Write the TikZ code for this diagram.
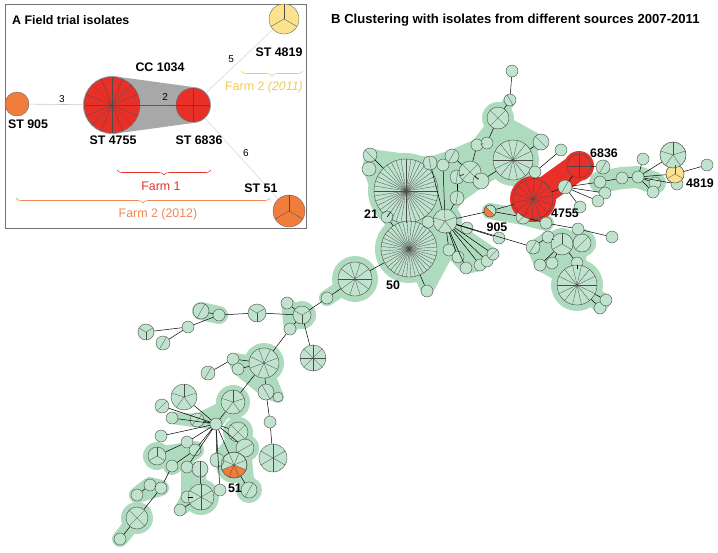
\documentclass[tikz,border=0pt]{standalone}
\usepackage{fontspec}
\setmainfont{Liberation Sans}
\usetikzlibrary{backgrounds}
\usetikzlibrary{decorations.pathreplacing}

\definecolor{stgreen}{RGB}{192,227,206}
\definecolor{hullgreen}{RGB}{174,218,190}
\definecolor{stred}{RGB}{233,48,40}
\definecolor{storange}{RGB}{240,125,60}
\definecolor{styellow}{RGB}{250,226,142}
\definecolor{farmyellow}{RGB}{243,202,84}
\definecolor{farmorange}{RGB}{238,135,85}
\definecolor{farmred}{RGB}{225,50,45}
\definecolor{ccgray}{RGB}{168,168,168}

\tikzstyle{title}=[font=\fontsize{12.4}{15}\selectfont\bfseries, inner sep=0pt]
\tikzstyle{lbl}=[font=\fontsize{12.4}{15}\selectfont\bfseries, inner sep=1pt]
\tikzstyle{farm}=[font=\fontsize{12.4}{15}\selectfont, inner sep=1pt]
\tikzstyle{elbl}=[font=\fontsize{10}{12}\selectfont, inner sep=1.5pt]
\tikzstyle{alink}=[draw=black!22, line width=0.6pt]
\tikzstyle{link}=[draw=black, line width=0.5pt]
\tikzstyle{spoke}=[draw=black!70, line width=0.3pt]
\tikzstyle{hull}=[fill=hullgreen, draw=hullgreen, line width=12pt, line join=round, line cap=round]
\tikzset{
  st/.style={circle, draw=black!70, fill=stgreen, line width=0.4pt, inner sep=0pt, minimum size=2*#1 pt},
  anode/.style={circle, draw=black!60, line width=0.4pt, inner sep=0pt, minimum size=2*#1 pt},
  band/.style={draw=hullgreen, line width=#1, line join=round, line cap=round},
  farmbrace/.style={decorate, decoration={brace, mirror, amplitude=5pt}, line width=0.6pt}
}
% spokes: node, radius, count, offset
\newcommand\spokes[4]{\foreach \k in {1,...,#3} \draw[spoke] (#1.center) -- +({#4+360/#3*\k}:#2pt);}

\begin{document}
\begin{tikzpicture}[x=1pt, y=-1pt]
\useasboundingbox (0,0) rectangle (718,552);

% A: field trial isolates
\draw[draw=black!55, line width=0.9pt] (5,4) rectangle (306,228);
\node[title, anchor=west] (titleA) at (12,20) {A Field trial isolates};

\fill[ccgray] (112,105) circle[radius=29pt];
\fill[ccgray] (193,105) circle[radius=18pt];
\fill[ccgray] (112,76) -- (193,87) -- (193,123) -- (112,134) -- cycle;

\node[anode=12, fill=storange] (a905) at (17,104) {};
\node[anode=28, fill=stred] (a4755) at (112,105) {};
\node[anode=17, fill=stred] (a6836) at (193,105) {};
\node[anode=15, fill=styellow] (a4819) at (284,19) {};
\node[anode=16, fill=storange] (a51) at (289,211) {};
\spokes{a4755}{28}{16}{0}
\spokes{a6836}{17}{4}{0}
\spokes{a4819}{15}{3}{90}
\spokes{a51}{16}{3}{90}

\draw[alink] (a905) -- node[elbl, above, pos=0.6] {3} (a4755);
\draw[alink, draw=black!65] (a4755) -- node[elbl, above=3pt, pos=0.7] {2} (a6836);
\draw[alink, draw=black!15] (a6836) -- node[elbl, above left, pos=0.45] {5} (a4819);
\draw[alink, draw=black!15] (a6836) -- node[elbl, above right, pos=0.5] {6} (a51);

\node[lbl] (cc1034) at (160,67) {CC 1034};
\node[lbl] (t905) at (28,124) {ST 905};
\node[lbl] (t4755) at (113,140) {ST 4755};
\node[lbl] (t6836) at (199,140) {ST 6836};
\node[lbl] (t4819) at (279,52) {ST 4819};
\node[lbl] (t51) at (261,188) {ST 51};

\draw[farmbrace, farmyellow] (241,71) -- (303,71);
\node[farm, text=farmyellow] (farm2011) at (264,87) {Farm 2 \textit{(2011)}};
\draw[farmbrace, farmred] (117,170) -- (211,170);
\node[farm, text=farmred] (farm1) at (161,186) {Farm 1};
\draw[farmbrace, farmorange] (16,198) -- (270,198);
\node[farm, text=farmorange] (farm2012) at (158,214) {Farm 2 (2012)};

% B: clustering
\node[title, font=\fontsize{13.1}{15}\selectfont\bfseries, anchor=west] (titleB) at (331,20) {B Clustering with isolates from different sources 2007-2011};

\foreach \n/\x/\y/\r in {
  n21/406/191/32, n50/409/249/28, hub/445/221/12,
  g1/370/155/7, g2/369/169/7, g3/387/217/6, g4/427/291/6, g5/428/222/6,
  g6/430/163/7, g7/443/165/6, g8/452/156/7, g9/457/177/7, g10/457/198/7,
  f1/467/228/6, f2/449/250/6, f3/458/257/6, f4/466/268/6, f5/480/265/6,
  f6/487/261/6, f7/493/254/6, f8/499/238/6,
  u1/512/71/6, u2/510/100/6, u3/498/118/11, u4/477/145/6, u5/487/143/6,
  u6/470/172/11, u7/481/181/8, bs1/513/160/20, u8/541/142/8, u9/561/150/6, u10/535/172/6,
  st905/490/211/6, st4755/533/199/20, r0/565/187/7, st6836/579/166/12,
  r1/603/167/7, r2/600/182/6, r3/622/178/6, r4/638/177/6, r5/643/159/6,
  st4819/675/174/9, r6/673/155/13, r7/677/184/6, r8/707/165/6, r9/655/183/6, r10/653/192/6,
  r11/605/193/6, r12/598/201/6, r13/580/207/6, r14/523/217/7, r15/546/223/6,
  r16/578/229/6, r17/612/237/6,
  q1/533/247/7, q2/548/237/6, q3/562/244/11, q4/582/243/9, q5/540/265/6,
  q6/552/263/6, q7/577/263/6, q8/577/285/20, q9/600/308/6, q10/606/300/6,
  s17/355/279/17, l1/327/298/6, l2/302/315/9, l3/287/303/6, l4/290/329/6,
  l5/257/313/9, l6/219/315/6, l7/201/311/8, l8/188/327/6, l9/146/332/8, l10/163/343/7,
  l11/313/358/13, l12/264/363/15, l13/233/359/6, l14/238/369/6, l15/208/373/7,
  l16/266/392/8, l17/278/397/5, l18/270/422/6, l19/273/458/14, l20/233/402/12,
  l21/184/397/13, hub2/216/424/6, l22/162/406/7, l23/172/418/6, l24/197/420/7,
  l25/161/436/6, l26/238/432/10, l27/245/448/9, st51/234/465/13, l28/217/460/7,
  l29/187/442/6, l30/195/450/6, l31/157/456/9, l32/172/466/6, l33/187/467/6,
  l34/200/469/8, l35/220/490/6, l36/249/490/8, l37/150/485/6, l38/161/488/6,
  l39/137/495/6, l40/187/497/6, l41/201/497/13, l42/180/510/6, l43/137/518/11, l44/120/539/6}
  {\node[st=\r] (\n) at (\x,\y) {};}

\node[st=20, fill=stred] at (st4755) {};
\node[st=12, fill=stred] at (st6836) {};
\node[st=9, fill=styellow] at (st4819) {};
\node[st=13] at (r6) {};

\begin{scope}
  \clip (st905.center) circle[radius=6pt];
  \fill[storange] (st905.center) -- +(135:20pt) -- +(225:20pt) -- +(315:20pt) -- cycle;
\end{scope}
\draw[black!70, line width=0.4pt] (st905.center) circle[radius=6pt];
\begin{scope}
  \clip (st51.center) circle[radius=13pt];
  \fill[storange] (st51.center) -- +(202.5:30pt) -- +(270:30pt) -- +(337.5:30pt) -- cycle;
\end{scope}
\draw[black!70, line width=0.4pt] (st51.center) circle[radius=13pt];

\foreach \n/\r/\m/\q in {
  n21/32/40/0, n50/28/40/4, hub/12/5/20, g1/7/2/135, g6/7/2/100, g8/7/2/60,
  g9/7/2/80, g10/7/2/80, u2/6/2/120, u3/11/4/45, u6/11/4/45, bs1/20/14/0,
  u8/8/2/135, f7/6/2/45, st905/6/2/135, st4755/20/14/10, st6836/12/4/0, r0/7/2/60,
  r1/7/2/60, st4819/9/3/90, r6/13/5/90, r14/7/2/45, q1/7/2/60, q3/11/3/90,
  q4/9/2/45, q8/20/14/0, s17/17/10/0, l2/9/3/30, l5/9/3/30, l7/8/2/60,
  l9/8/3/30, l10/7/2/60, l11/13/8/0, l12/15/8/20, l15/7/2/60, l16/8/2/120,
  l19/14/6/30, l20/12/5/90, l21/13/5/90, l22/7/2/45, l24/7/2/45, l26/10/4/45,
  l27/9/2/30, st51/13/8/22.5, l31/9/3/90, l34/8/2/90, l36/8/2/60, l41/13/6/30,
  l43/11/4/45}
  {\spokes{\n}{\r}{\m}{\q}}

\foreach \a/\b in {
  n21/g1, g1/g2, n21/g3, g3/n50, n21/g5, g5/n50, g5/hub, hub/g6, hub/g7,
  hub/g10, g10/g9, g9/u6, g8/u6, u6/u7, u6/u4, u4/u5, u5/u3, u3/u2, u2/u1,
  u7/bs1, bs1/u8, u10/u9, u10/st4755, hub/f1, hub/f2, hub/f3, hub/f4, hub/f5,
  hub/f6, hub/f7, hub/f8, hub/st905, hub/q1, n50/g4, n50/s17,
  st905/st4755, st905/r14, r14/r15, r15/r16, r16/r17, st4755/r0, r0/st6836,
  st6836/r1, r0/r2, r0/r11, r0/r12, r0/r13, r2/r3, r3/r4, r4/r5, r4/r6,
  r4/st4819, r4/r7, r4/r9, r4/r10, st4819/r8,
  q1/q2, q2/q3, q3/q4, q3/q5, q3/q6, q3/q7, q7/q8, q8/q9, q8/q10,
  s17/l1, l1/l2, l2/l3, l2/l4, l2/l11, l2/l5, l5/l6, l6/l7, l6/l8, l8/l9,
  l8/l10, l4/l12, l12/l13, l13/l15, l12/l14, l12/l16, l16/l17, l16/l18,
  l18/l19, l12/l20, l20/hub2, hub2/l21, hub2/l22, hub2/l23, hub2/l24,
  hub2/l25, hub2/l26, hub2/l27, hub2/st51, hub2/l28, hub2/l35, hub2/l29,
  hub2/l30, l29/l31, l30/l32, hub2/l33, l33/l34, l34/l41, l41/l40, l41/l42,
  l32/l38, l38/l37, l37/l39, l38/l43, l43/l44, st51/l36}
  {\draw[link] (\a) -- (\b);}

\begin{pgfonlayer}{background}
  \foreach \n/\r in {n21/38pt, n50/34pt, hub/17pt, bs1/26pt, u3/16pt, u6/16pt,
    s17/23pt, q8/26pt, q3/16pt, q4/14pt, l2/14pt, l12/20pt, l20/17pt,
    l26/15pt, l27/14pt, st51/18pt, l36/13pt, l31/14pt, l41/18pt, l43/16pt}
    {\fill[hullgreen] (\n.center) circle[radius=\r];}
  \filldraw[hull] (g1.center) -- (g6.center) -- (g8.center) -- (u4.center)
    -- (u3.center) -- (u2.center) -- (u3.center) -- (u8.center) -- (bs1.center)
    -- (u7.center) -- (g10.center) -- (hub.center) -- (f7.center) -- (f5.center)
    -- (f4.center) -- (f2.center) -- (g4.center) -- (n50.center) -- (g3.center)
    -- (g2.center) -- cycle;
  \draw[band=16pt] (st905.center) -- (r14.center) -- (r15.center);
  \draw[band=22pt] (r2.center) -- (r3.center) -- (r4.center) -- (r9.center);
  \filldraw[hull] (q1.center) -- (q2.center) -- (q4.center) -- (q8.center)
    -- (q10.center) -- (q9.center) -- (q8.center) -- (q5.center) -- cycle;
  \draw[band=16pt] (s17.center) -- (l1.center);
  \filldraw[hull] (l3.center) -- (l2.center) -- (l4.center) -- cycle;
  \draw[band=18pt] (l7.center) -- (l6.center);
  \filldraw[hull] (l13.center) -- (l12.center) -- (l17.center) -- (l16.center) -- (l14.center) -- cycle;
  \filldraw[hull] (l23.center) -- (l24.center) -- (l20.center) -- (hub2.center) -- cycle;
  \filldraw[hull] (l26.center) -- (l27.center) -- (l36.center) -- (st51.center) -- (l28.center) -- cycle;
  \draw[band=18pt] (l31.center) -- (l30.center) -- (l32.center);
  \filldraw[hull] (l33.center) -- (l34.center) -- (l41.center) -- (l42.center) -- (l40.center) -- cycle;
  \draw[band=16pt] (l37.center) -- (l38.center) -- (l39.center) -- cycle;
  \draw[band=16pt] (l43.center) -- (l44.center);
  % Farm 1 cluster
  \fill[stred] (st4755.center) circle[radius=23pt];
  \fill[stred] (st6836.center) circle[radius=15pt];
  \draw[stred, line width=27pt, line cap=round] (st4755.center) -- (st6836.center);
\end{pgfonlayer}

\node[lbl] (t21) at (371,214) {21};
\node[lbl] (t50) at (393,285) {50};
\node[lbl] (tb905) at (497,227) {905};
\node[lbl] (tb4755) at (565,213) {4755};
\node[lbl] (tb6836) at (604,153) {6836};
\node[lbl] (tb4819) at (700,183) {4819};
\node[lbl] (tb51) at (235,488) {51};
\end{tikzpicture}
\end{document}
